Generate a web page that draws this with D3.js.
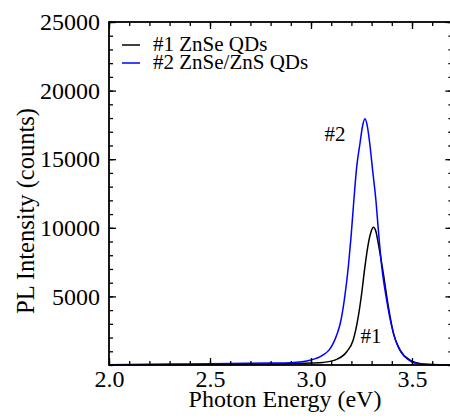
<!DOCTYPE html>
<html>
<head>
<meta charset="utf-8">
<script src="https://cdn.jsdelivr.net/npm/d3@7"></script>
<style>
  body { margin: 0; }
  #chart text { font-family: "Liberation Serif", "Times New Roman", serif !important; }
</style>
</head>
<body>
<svg id="chart" width="450" height="419" font-family="Liberation Serif"></svg>
<script>
// PL spectra: photon energy (eV) and intensity (counts)
const energy1 = [2.00, 2.20, 2.40, 2.60, 2.80, 2.90, 3.00, 3.06, 3.127, 3.177, 3.209, 3.234, 3.251, 3.267,
                 3.284, 3.297, 3.309, 3.321, 3.333, 3.358, 3.383, 3.408, 3.441, 3.49, 3.531, 3.58, 3.70];
const counts1 = [10, 20, 30, 45, 70, 100, 140, 190, 410, 970, 1820, 3520, 5230, 7170,
                 8870, 9700, 10040, 9750, 8870, 6680, 4250, 2310, 1090, 360, 120, 40, 10];

const energy2 = [2.00, 2.20, 2.40, 2.60, 2.80, 2.90, 3.00, 3.06, 3.09, 3.11, 3.13, 3.145, 3.165, 3.185,
                 3.198, 3.209, 3.226, 3.243, 3.255, 3.267, 3.279, 3.292, 3.305, 3.322, 3.333, 3.35,
                 3.375, 3.40, 3.424, 3.445, 3.465, 3.498, 3.54, 3.60, 3.70];
const counts2 = [20, 50, 80, 110, 140, 170, 360, 730, 1100, 1580, 2300, 3040, 4750, 7200,
                 9300, 11400, 14400, 16200, 17400, 17950, 17400, 16000, 14200, 11900, 9900, 7200,
                 4700, 2800, 1580, 950, 600, 240, 90, 30, 10];

const seriesNames  = ["#1 ZnSe QDs", "#2 ZnSe/ZnS QDs"];
const seriesColors = ["#000000", "#0000ff"];
const peakLabels   = ["#1", "#2"];

const xDomain = [2.0, 3.7];
const yDomain = [0, 25000];
const xMajorTicks = [2.0, 2.5, 3.0, 3.5];
const yMajorTicks = [5000, 10000, 15000, 20000, 25000];

const xLabel = "Photon Energy (eV)";
const yLabel = "PL Intensity (counts)";

const FONT = "Liberation Serif";

// ---- layout ----
const svg = d3.select("#chart");
const plotLeft = 109, plotRight = 452.4, plotTop = 22, plotBottom = 365;

const x = d3.scaleLinear().domain(xDomain).range([plotLeft, plotRight]);
const y = d3.scaleLinear().domain(yDomain).range([plotBottom, plotTop]);

const xMinor = x.ticks(17);
const yMinor = y.ticks(25);

// ---- spectra ----
const spectrumLine = d3.line()
  .x(d => x(d[0]))
  .y(d => y(d[1]))
  .curve(d3.curveMonotoneX);

const series = [
  d3.zip(energy1, counts1),
  d3.zip(energy2, counts2)
];

svg.append("g")
  .selectAll("path")
  .data(series)
  .join("path")
  .attr("d", spectrumLine)
  .attr("fill", "none")
  .attr("stroke", (d, i) => seriesColors[i])
  .attr("stroke-width", 1.5)
  .attr("stroke-linejoin", "round");

// ---- axes (ticks pointing inward on all four sides) ----
function styleAxis(g) {
  g.attr("font-family", FONT).attr("font-size", 24);
  g.select(".domain").remove();
  g.selectAll(".tick line").attr("stroke", "#000").attr("stroke-width", 1.3);
  g.selectAll(".tick text").attr("fill", "#000");
}

// bottom
svg.append("g").attr("transform", `translate(0,${plotBottom})`)
  .call(d3.axisBottom(x).tickValues(xMinor).tickSize(-4).tickFormat(""))
  .call(styleAxis);
svg.append("g").attr("transform", `translate(0,${plotBottom})`)
  .call(d3.axisBottom(x).tickValues(xMajorTicks).tickSize(-7).tickPadding(5).tickFormat(d3.format(".1f")))
  .call(styleAxis);

// top
svg.append("g").attr("transform", `translate(0,${plotTop})`)
  .call(d3.axisTop(x).tickValues(xMinor).tickSize(-4).tickFormat(""))
  .call(styleAxis);
svg.append("g").attr("transform", `translate(0,${plotTop})`)
  .call(d3.axisTop(x).tickValues(xMajorTicks).tickSize(-7).tickFormat(""))
  .call(styleAxis);

// left
svg.append("g").attr("transform", `translate(${plotLeft},0)`)
  .call(d3.axisLeft(y).tickValues(yMinor).tickSize(-4).tickFormat(""))
  .call(styleAxis);
svg.append("g").attr("transform", `translate(${plotLeft},0)`)
  .call(d3.axisLeft(y).tickValues(yMajorTicks).tickSize(-7).tickPadding(9).tickFormat(d3.format("d")))
  .call(styleAxis);

// right
svg.append("g").attr("transform", `translate(${plotRight},0)`)
  .call(d3.axisRight(y).tickValues(yMinor).tickSize(-4).tickFormat(""))
  .call(styleAxis);
svg.append("g").attr("transform", `translate(${plotRight},0)`)
  .call(d3.axisRight(y).tickValues(yMajorTicks).tickSize(-7).tickFormat(""))
  .call(styleAxis);

// frame
svg.append("rect")
  .attr("x", plotLeft).attr("y", plotTop)
  .attr("width", plotRight - plotLeft).attr("height", plotBottom - plotTop)
  .attr("fill", "none").attr("stroke", "#000").attr("stroke-width", 1.8);

// ---- axis titles ----
svg.append("text")
  .attr("x", 285).attr("y", 407)
  .attr("text-anchor", "middle")
  .attr("font-size", 24)
  .text(xLabel);

svg.append("text")
  .attr("transform", "translate(34,211) rotate(-90)")
  .attr("text-anchor", "middle")
  .attr("font-size", 24.5)
  .text(yLabel);

// ---- legend ----
const legend = svg.append("g").attr("font-size", 21);
seriesNames.forEach((name, i) => {
  const ly = 45 + i * 18;
  legend.append("line")
    .attr("x1", 122).attr("x2", 140)
    .attr("y1", ly).attr("y2", ly)
    .attr("stroke", seriesColors[i]).attr("stroke-width", 1.5);
  legend.append("text")
    .attr("x", 153).attr("y", ly + 5.5)
    .text(name);
});

// ---- peak labels ----
const notes = svg.append("g").attr("font-size", 21);
notes.append("text")
  .attr("x", 371).attr("y", 343)
  .attr("text-anchor", "middle")
  .text(peakLabels[0]);

notes.append("text")
  .attr("x", 335).attr("y", 141)
  .attr("text-anchor", "middle")
  .text(peakLabels[1]);

// every label in the serif face
svg.selectAll("text").style("font-family", FONT, "important");
</script>
</body>
</html>
